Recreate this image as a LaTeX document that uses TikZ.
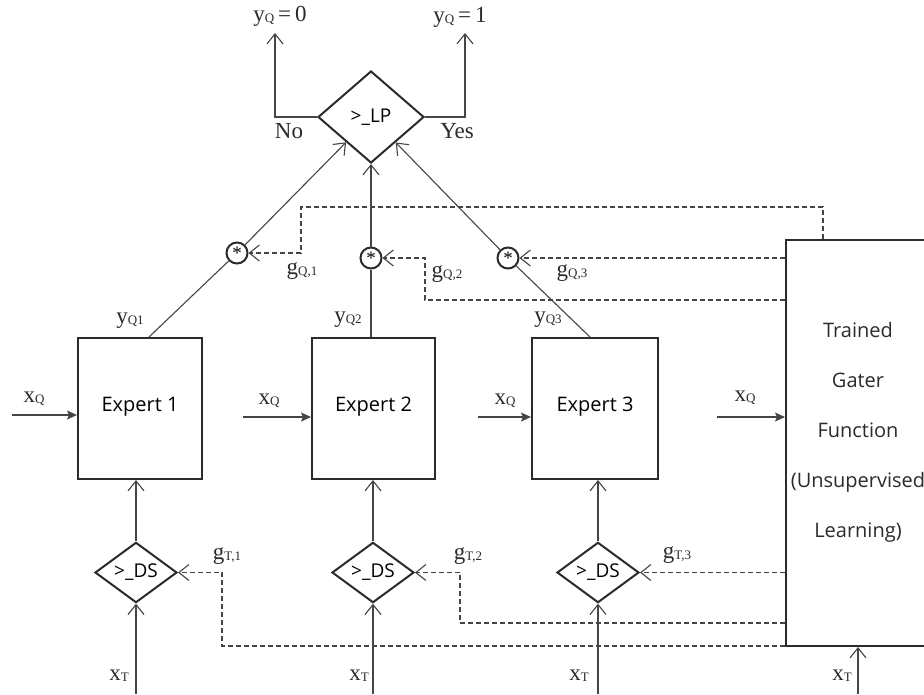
\documentclass[tikz,border=0pt]{standalone}
\usepackage{fontspec}
\setmainfont{Liberation Serif}
\newfontfamily\boxfont{Open Sans}
\usetikzlibrary{shapes.geometric,arrows.meta,calc}
\definecolor{ink}{HTML}{2B2B2B}
\definecolor{wire}{HTML}{454545}
\newcommand\lab[2]{#1\raisebox{-1pt}{\fontsize{13}{13}\selectfont #2}}
\begin{document}
\begin{tikzpicture}[x=1pt,y=-1pt,
  conn/.style={draw=wire,line width=1.1pt},
  dsh/.style={draw=wire,line width=1.1pt,dash pattern=on 5pt off 3pt},
  barb/.style={-{Straight Barb[length=10pt,width=16pt,line width=1.1pt]}},
  solidtip/.style={-{Stealth[length=10pt,width=9pt,inset=2pt]}},
  expbox/.style={draw=ink,line width=2pt,rectangle,inner sep=0,font=\boxfont\fontsize{20}{20}\selectfont},
  dia/.style={draw=ink,line width=2pt,diamond,inner sep=0,font=\boxfont\fontsize{19}{19}\selectfont},
  mult/.style={draw=ink,line width=2pt,circle,minimum size=21pt,inner sep=0,fill=white,font=\fontsize{19}{19}\selectfont},
  tlab/.style={inner sep=0,text=ink,font=\fontsize{23}{23}\selectfont}]
\useasboundingbox (0,0) rectangle (924,694);
\clip (0,0) rectangle (924,694);
\fill[white] (0,0) rectangle (924,694);

% top decision
\node[dia,minimum width=106pt,minimum height=92pt] (lp) at (371,117) {\raisebox{2pt}{>\_LP}};
\coordinate (o0) at (275,33);
\coordinate (o1) at (465,33);
\draw[conn,barb] (lp.west) -| (o0);
\draw[conn,barb] (lp.east) -| (o1);
\node[tlab] (y0) at (280,16) {\lab{y}{Q}\,=\,0};
\node[tlab] (y1) at (460,17) {\lab{y}{Q}\,=\,1};
\node[tlab] (no) at (289,131) {No};
\node[tlab] (yes) at (457,131) {Yes};

% experts
\node[expbox,minimum width=124pt,minimum height=141pt] (e1) at (140,408.5) {\raisebox{8pt}{Expert 1}};
\node[expbox,minimum width=123pt,minimum height=141pt] (e2) at (373.5,408.5) {\raisebox{8pt}{Expert 2}};
\node[expbox,minimum width=126pt,minimum height=141pt] (e3) at (595,408.5) {\raisebox{8pt}{Expert 3}};

% gater
\node[expbox,minimum width=144pt,minimum height=406pt] (g) at (858,443) {};
\node[inner sep=0,align=center,text=ink,font=\boxfont\fontsize{20}{50}\selectfont] (gt) at (858,432)
  {Trained\\Gater\\Function\\(Unsupervised\\Learning)};

% multipliers
\node[mult] (c1) at (237,253) {\raisebox{-5pt}{*}};
\node[mult] (c2) at (371,258) {\raisebox{-5pt}{*}};
\node[mult] (c3) at (508,258) {\raisebox{-5pt}{*}};

\draw[conn] ([xshift=9pt]e1.north) -- (c1);
\draw[conn] (e2.north -| c2) -- (c2);
\draw[conn] ([xshift=-5pt]e3.north) -- (c3);
\draw[conn,barb] (c1) -- (lp);
\draw[conn,barb] (c2) -- (lp);
\draw[conn,barb] (c3) -- (lp);

\node[tlab] (ly1) at (130,321) {\lab{y}{Q1}};
\node[tlab] (ly2) at (348,320) {\lab{y}{Q2}};
\node[tlab] (ly3) at (548,320) {\lab{y}{Q3}};

% gating to multipliers
\draw[dsh,barb] ([xshift=-35pt]g.north) -- ++(0,-32) -| ([xshift=64pt]c1.center) -- (c1);
\draw[dsh,barb] ([yshift=143pt]g.west) -| ([xshift=54pt]c2.center) -- (c2);
\draw[dsh,barb] (g.west |- c3) -- (c3);
\node[tlab] (gq1) at (302,271) {\lab{g}{Q,1}};
\node[tlab] (gq2) at (447,274) {\lab{g}{Q,2}};
\node[tlab] (gq3) at (572,273) {\lab{g}{Q,3}};

% xQ inputs
\coordinate (i1) at (12,415);
\coordinate (i2) at (243,417);
\coordinate (i3) at (478,417);
\coordinate (i4) at (717,417);
\draw[conn,solidtip] (i1) -- (i1 -| e1.west);
\draw[conn,solidtip] (i2) -- (i2 -| e2.west);
\draw[conn,solidtip] (i3) -- (i3 -| e3.west);
\draw[conn,solidtip] (i4) -- (i4 -| g.west);
\node[tlab] (xq1) at (34,399) {\lab{x}{Q}};
\node[tlab] (xq2) at (269,401) {\lab{x}{Q}};
\node[tlab] (xq3) at (505,401) {\lab{x}{Q}};
\node[tlab] (xq4) at (745,398) {\lab{x}{Q}};

% DS diamonds
\node[dia,minimum width=82pt,minimum height=59pt] (d1) at (136,572.5) {>\_DS};
\node[dia,minimum width=82pt,minimum height=59pt] (d2) at (373,572.5) {>\_DS};
\node[dia,minimum width=82pt,minimum height=59pt] (d3) at (598,572.5) {>\_DS};
\draw[conn,barb] (d1) -- (d1 |- e1.south);
\draw[conn,barb] (d2) -- (d2 |- e2.south);
\draw[conn,barb] (d3) -- (d3 |- e3.south);

% xT inputs
\coordinate (t1) at (136,694);
\coordinate (t2) at (373,694);
\coordinate (t3) at (598,694);
\coordinate (t4) at (858,694);
\draw[conn,barb] (t1) -- (d1);
\draw[conn,barb] (t2) -- (d2);
\draw[conn,barb] (t3) -- (d3);
\draw[conn,barb] (t4) -- (g.south);
\node[tlab] (xt1) at (119,676) {\lab{x}{T}};
\node[tlab] (xt2) at (359,676) {\lab{x}{T}};
\node[tlab] (xt3) at (579,676) {\lab{x}{T}};
\node[tlab] (xt4) at (842,676) {\lab{x}{T}};

% gating to DS
\draw[dsh,barb] ([yshift=1pt]g.south west) -| ([xshift=86pt]d1.center) -- (d1);
\draw[dsh,barb] ([yshift=-180pt]g.west) -| ([xshift=87pt]d2.center) -- (d2);
\draw[dsh,barb] (g.west |- d3) -- (d3);
\node[tlab] (gt1) at (227,556) {\lab{g}{T,1}};
\node[tlab] (gt2) at (468,556) {\lab{g}{T,2}};
\node[tlab] (gt3) at (677,555) {\lab{g}{T,3}};
\end{tikzpicture}
\end{document}
